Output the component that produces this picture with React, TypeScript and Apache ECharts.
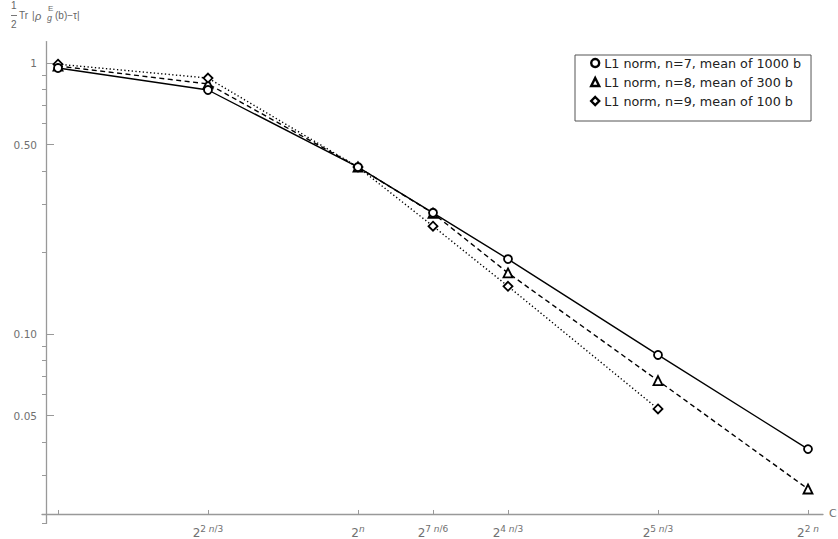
import React, { useEffect, useRef } from "react";
import * as echarts from "echarts";

// ---------- data ----------
const xExponents = [1 / 3, 2 / 3, 1, 7 / 6, 4 / 3, 5 / 3, 2]; // exponent of 2, in units of n
const xTickCoef = ["", "2", "", "7", "4", "5", "2"];
const xTickDenom = ["", "3", "", "6", "3", "3", ""];
const xLabelShown = [false, true, true, true, true, true, true];

const seriesNames = [
  "L1 norm, n=7, mean of 1000 b",
  "L1 norm, n=8, mean of 300 b",
  "L1 norm, n=9, mean of 100 b",
];
const n7Values = [0.958, 0.795, 0.413, 0.28, 0.189, 0.0837, 0.0376];
const n8Values = [0.975, 0.837, 0.413, 0.279, 0.168, 0.0673, 0.0268];
const n9Values = [0.99, 0.88, 0.413, 0.25, 0.15, 0.0529];

const yMajorTicks = [1, 0.5, 0.1, 0.05];
const yMajorLabels = ["1", "0.50", "0.10", "0.05"];
const yMinorTicks = [0.9, 0.8, 0.7, 0.6, 0.4, 0.3, 0.2, 0.09, 0.08, 0.07, 0.06, 0.04, 0.03, 0.02];

// ---------- axis geometry (where the axes cross) ----------
const X_ORIGIN = 1 / 3 - 12 / 450; // exponent at which the vertical axis sits
const Y_ORIGIN = 0.021668; // value at which the horizontal axis sits
const X_MIN = -4 / 450;
const X_MAX = 2 + 15 / 450 - X_ORIGIN;
const Y_TOP = 1.2;
const Y_BOTTOM = 0.02;

const tx = (k: number) => k - X_ORIGIN;
const ty = (v: number) => Math.log10(v) - Math.log10(Y_ORIGIN);

const FONT = "DejaVu Sans";
const TFONT = "Liberation Sans";
const AXIS_GRAY = "#999";
const LABEL_GRAY = "#707070";
const TITLE_GRAY = "#666";

function buildOption() {
  const mk = (vals: number[]) => vals.map((v, i) => [tx(xExponents[i]), ty(v)]);
  const symbols = ["circle", "triangle", "diamond"];
  const sizes = [8, 9, 9];
  const dash: any[] = ["solid", [5, 3.5], [1.3, 2.4]];
  const zs = [6, 4, 5];
  const datas = [n7Values, n8Values, n9Values];

  const series = datas.map((vals, i) => ({
    type: "line",
    name: seriesNames[i],
    data: mk(vals),
    symbol: symbols[i],
    symbolSize: sizes[i],
    showAllSymbol: true,
    lineStyle: { color: "#000", width: 1.4, type: dash[i] },
    itemStyle: { color: "#fff", borderColor: "#000", borderWidth: 1.8 },
    z: zs[i],
    emphasis: { disabled: true },
  }));

  const xLabelFormatter = (val: number) => {
    const k = val + X_ORIGIN;
    const i = xExponents.findIndex((e) => Math.abs(e - k) < 1e-6);
    if (i < 0 || !xLabelShown[i]) return "";
    let s = "{b|2}";
    if (xTickCoef[i]) s += `{s|${xTickCoef[i]} }`;
    s += "{i|n}";
    if (xTickDenom[i]) s += `{s|/${xTickDenom[i]}}`;
    return s;
  };

  const yLabelFormatter = (val: number) => {
    const i = yMajorTicks.findIndex((m) => Math.abs(ty(m) - val) < 1e-6);
    return i < 0 ? "" : yMajorLabels[i];
  };

  const t = (text: string, left: number, top: number, size: number, italic = false) => ({
    type: "text",
    left,
    top,
    style: { text, fill: TITLE_GRAY, font: `${italic ? "italic " : ""}${size}px "${TFONT}"` },
  });

  return {
    animation: false,
    backgroundColor: "#fff",
    grid: {
      left: 42,
      right: 15,
      top: 63 - Math.log10(Y_TOP) * 271,
      bottom: 539 - (63 - Math.log10(Y_BOTTOM) * 271),
      containLabel: false,
      outerBoundsMode: "none",
    },
    xAxis: {
      type: "value",
      min: X_MIN,
      max: X_MAX,
      name: "C",
      nameLocation: "end",
      nameGap: 6,
      nameTextStyle: { color: LABEL_GRAY, fontFamily: FONT, fontSize: 11, align: "left", verticalAlign: "middle" },
      splitLine: { show: false },
      axisLine: { show: true, onZero: true, lineStyle: { color: AXIS_GRAY, width: 1.3 } },
      axisTick: {
        show: true,
        inside: true,
        length: 4,
        customValues: xExponents.map(tx),
        lineStyle: { color: AXIS_GRAY, width: 1 },
      },
      axisLabel: {
        show: true,
        margin: 4,
        customValues: xExponents.filter((_, i) => xLabelShown[i]).map(tx),
        formatter: xLabelFormatter,
        color: LABEL_GRAY,
        fontFamily: FONT,
        rich: {
          b: { fontSize: 12, lineHeight: 12, fontFamily: FONT, color: LABEL_GRAY },
          s: { fontSize: 9, lineHeight: 10, fontFamily: FONT, color: LABEL_GRAY, padding: [0, 0, 9, 0] },
          i: { fontSize: 9, lineHeight: 10, fontFamily: FONT, color: LABEL_GRAY, fontStyle: "italic", padding: [0, 0, 9, 0] },
        },
      },
    },
    yAxis: [
      {
        type: "value",
        position: "left",
        min: ty(Y_BOTTOM),
        max: ty(Y_TOP),
        splitLine: { show: false },
        axisLine: { show: true, onZero: true, lineStyle: { color: AXIS_GRAY, width: 1.3 } },
        axisTick: {
          show: true,
          inside: true,
          length: 8,
          customValues: yMajorTicks.map(ty),
          lineStyle: { color: AXIS_GRAY, width: 1 },
        },
        axisLabel: {
          show: true,
          margin: 5,
          customValues: yMajorTicks.map(ty),
          formatter: yLabelFormatter,
          color: LABEL_GRAY,
          fontFamily: FONT,
          fontSize: 10.5,
        },
      },
      {
        type: "value",
        position: "left",
        min: ty(Y_BOTTOM),
        max: ty(Y_TOP),
        splitLine: { show: false },
        axisLine: { show: false, onZero: true },
        axisTick: {
          show: true,
          inside: true,
          length: 4,
          customValues: yMinorTicks.map(ty),
          lineStyle: { color: AXIS_GRAY, width: 1 },
        },
        axisLabel: { show: false },
      },
    ],
    legend: {
      orient: "vertical",
      left: 575,
      top: 55,
      padding: [1, 10, 13, 15],
      itemWidth: 8,
      itemHeight: 8,
      itemGap: 5,
      backgroundColor: "#fff",
      borderColor: "#555",
      borderWidth: 1,
      borderRadius: 0,
      selectedMode: false,
      textStyle: { fontFamily: FONT, fontSize: 12.75, color: "#222", lineHeight: 14 },
      data: seriesNames.map((name, i) => ({
        name,
        icon: symbols[i],
        itemStyle: { color: "#fff", borderColor: "#000", borderWidth: 2.4 },
      })),
    },
    graphic: [
      t("1", 11, 0, 10),
      { type: "line", shape: { x1: 11, y1: 15.5, x2: 17, y2: 15.5 }, style: { stroke: "#777", lineWidth: 1 } },
      t("2", 11, 19, 10),
      t("Tr", 19, 10, 10),
      t("|", 32, 10, 10),
      t("ρ", 35, 10, 11, true),
      t("E", 48, 4, 8),
      t("g", 47, 13, 9, true),
      t("(b)−τ|", 55, 10, 10),
    ],
    series,
  };
}

export default function App() {
  const ref = useRef<HTMLDivElement>(null);
  useEffect(() => {
    if (!ref.current) return;
    const chart = echarts.init(ref.current, null, { renderer: "svg" });
    chart.setOption(buildOption() as any);
    return () => chart.dispose();
  }, []);
  return (
    <div
      ref={ref}
      style={{ position: "fixed", left: 0, top: 0, width: 838, height: 539, background: "#fff" }}
    />
  );
}
